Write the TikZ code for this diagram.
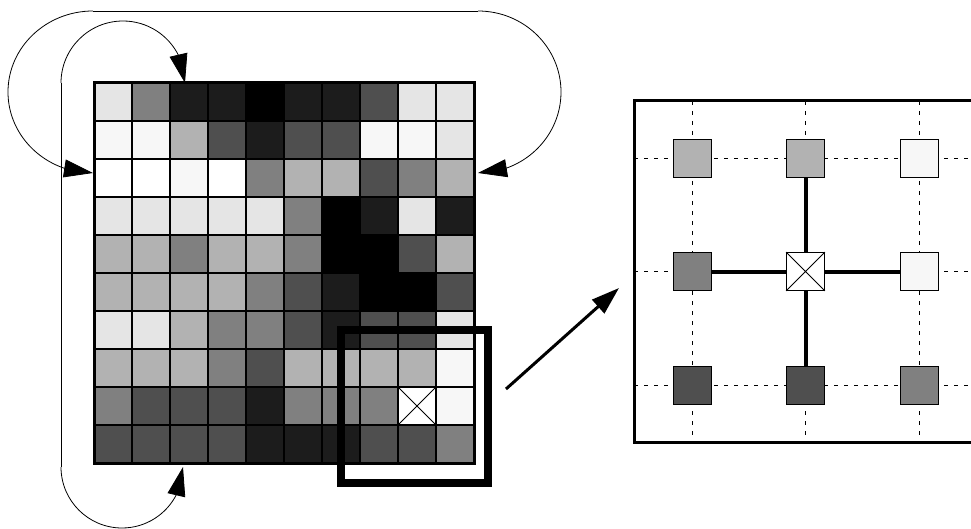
\documentclass[tikz,border=0pt]{standalone}
\usetikzlibrary{arrows.meta,bending}
\begin{document}
\begin{tikzpicture}[x=1pt,y=-1pt,
  cellbox/.style={draw, line width=1.5pt, minimum size=38pt, inner sep=0pt, outer sep=0pt},
  psq/.style={draw, line width=0.9pt, minimum size=38pt, inner sep=0pt},
  thinline/.style={line width=0.8pt},
  arcarrow/.style={line width=0.8pt, -{Triangle[length=29pt,width=18pt,flex]}},
  dashgrid/.style={line width=0.8pt, dash pattern=on 4pt off 6pt},
  link/.style={line width=4pt}]
\clip (0,0) rectangle (971,529);
% main grid
\foreach \vals [count=\r] in {
{10,50,89,89,100,89,89,69,10,10},
{3,3,30,69,89,69,69,3,3,10},
{0,0,3,0,50,30,30,69,50,30},
{10,10,10,10,10,50,100,89,10,89},
{30,30,50,30,30,50,100,100,69,30},
{30,30,30,30,50,69,89,100,100,69},
{10,10,30,50,50,69,89,69,69,10},
{30,30,30,50,69,30,30,30,30,3},
{50,69,69,69,89,50,50,50,0,3},
{69,69,69,69,89,89,89,69,69,50}} {
  \foreach \v [count=\c] in \vals {
    \node[cellbox, fill=black!\v] (g-\r-\c) at ({75+38*\c},{64+38*\r}) {};
  }
}
\draw[line width=0.8pt] (g-9-9.north west) -- (g-9-9.south east)
  (g-9-9.north east) -- (g-9-9.south west);
\draw[line width=3pt] (g-1-1.north west) rectangle (g-10-10.south east);
% zoom box
\node[draw, line width=8pt, minimum width=147pt, minimum height=153pt, inner sep=0pt] (zoombox) at (414.5,406.5) {};
% wrap-around arrows
\coordinate (ot1) at (93,11);
\coordinate (ot2) at (478,11);
\coordinate (il1) at (61,83);
\coordinate (il2) at (61,467);
\draw[thinline] (ot1) -- (ot2);
\draw[arcarrow] (ot1) arc[start angle=-90, end angle=-270, x radius=85, y radius=81];
\draw[arcarrow] (ot2) arc[start angle=-90, end angle=90, x radius=83, y radius=81];
\draw[thinline] (il1) -- (il2);
\draw[arcarrow] (il1) arc[start angle=180, end angle=360, radius=62];
\draw[arcarrow] (il2) arc[start angle=180, end angle=0, radius=61];
% magnify arrow
\coordinate (za) at (506,389);
\coordinate (zb) at (619,288);
\draw[line width=3pt, -{Triangle[length=28pt,width=18pt]}] (za) -- (zb);
% panel
\node[draw, line width=3pt, minimum width=342pt, minimum height=341pt, inner sep=0pt] (panel) at (805,271.5) {};
\foreach \x in {692,805.5,919} \draw[dashgrid] (\x,101) -- (\x,442);
\foreach \y in {158,271.5,385} \draw[dashgrid] (634,\y) -- (976,\y);
\node[psq, fill=black!30] (p-1-1) at (692,158) {};
\node[psq, fill=black!30] (p-1-2) at (805.5,158) {};
\node[psq, fill=black!3]  (p-1-3) at (919,158) {};
\node[psq, fill=black!50] (p-2-1) at (692,271.5) {};
\node[psq, fill=white]    (p-2-2) at (805.5,271.5) {};
\node[psq, fill=black!3]  (p-2-3) at (919,271.5) {};
\node[psq, fill=black!69] (p-3-1) at (692,385) {};
\node[psq, fill=black!69] (p-3-2) at (805.5,385) {};
\node[psq, fill=black!50] (p-3-3) at (919,385) {};
\draw[line width=0.8pt] (p-2-2.north west) -- (p-2-2.south east)
  (p-2-2.north east) -- (p-2-2.south west);
\draw[link] (p-2-2) -- (p-1-2);
\draw[link] (p-2-2) -- (p-3-2);
\draw[link] (p-2-2) -- (p-2-1);
\draw[link] (p-2-2) -- (p-2-3);
\end{tikzpicture}
\end{document}
